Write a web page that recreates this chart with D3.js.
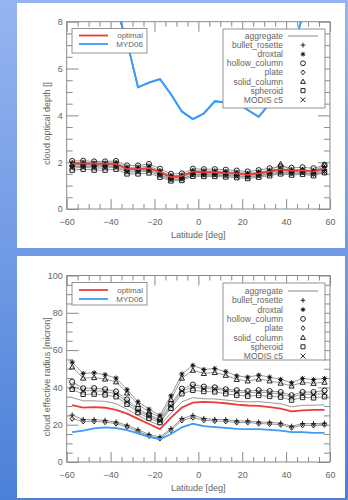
<!DOCTYPE html>
<html><head><meta charset="utf-8">
<script src="https://cdn.jsdelivr.net/npm/d3@7"></script>
<style>
html,body{margin:0;padding:0;}
body{width:348px;height:500px;overflow:hidden;}
text{font-family:"Liberation Sans",Arial,sans-serif;fill:#666;}
</style></head>
<body>
<svg id="c" width="348" height="500"></svg>
<script>
// ---------- data ----------
const lat = [-57.5,-52.5,-47.5,-42.5,-37.5,-32.5,-27.5,-22.5,-17.5,-12.5,-7.5,-2.5,2.5,7.5,12.5,17.5,22.5,27.5,32.5,37.5,42.5,47.5,52.5,57.5];
const xTicks = [-60,-40,-20,0,20,40,60];
const tauTicks = [0,2,4,6,8];
const reTicks = [0,20,40,60,80,100];
const habitNames = ["aggregate","bullet_rosette","droxtal","hollow_column","plate","solid_column","spheroid","MODIS c5"];
const refNames = ["optimal","MYD06"];

// cloud optical depth
const tauOptimal   = [1.95,1.95,1.94,1.94,1.93,1.70,1.70,1.74,1.58,1.36,1.41,1.60,1.57,1.57,1.53,1.52,1.46,1.52,1.60,1.69,1.64,1.65,1.60,1.73];
const tauMYD06     = [12.5,11.5,10.5,9.6,8.6,7.15,5.2,5.4,5.55,4.9,4.16,3.84,4.08,4.6,4.55,4.57,4.23,3.94,4.5,5.15,6.6,8.25,10,12];
const tauAggregate = [1.92,1.93,1.90,1.90,1.92,1.70,1.70,1.75,1.56,1.37,1.40,1.58,1.57,1.57,1.55,1.52,1.48,1.54,1.60,1.68,1.63,1.65,1.60,1.72];
const tauBullet    = [1.86,1.88,1.86,1.86,1.88,1.68,1.68,1.72,1.53,1.33,1.36,1.54,1.53,1.53,1.51,1.48,1.44,1.50,1.56,1.64,1.59,1.62,1.56,1.68];
const tauDroxtal   = [1.98,1.99,1.96,1.96,1.98,1.78,1.78,1.83,1.63,1.42,1.44,1.64,1.62,1.62,1.60,1.56,1.52,1.58,1.65,1.72,1.67,1.68,1.64,1.78];
const tauHollow    = [2.05,2.06,2.03,2.03,2.05,1.86,1.86,1.92,1.72,1.50,1.52,1.72,1.70,1.70,1.68,1.64,1.60,1.66,1.74,1.82,1.76,1.78,1.74,1.88];
const tauPlate     = [1.80,1.82,1.80,1.80,1.82,1.62,1.62,1.66,1.47,1.28,1.30,1.48,1.47,1.47,1.45,1.42,1.38,1.44,1.50,1.58,1.53,1.56,1.50,1.62];
const tauSolid     = [1.90,1.92,1.90,1.90,1.92,1.72,1.72,1.76,1.57,1.37,1.40,1.58,1.57,1.57,1.55,1.52,1.48,1.54,1.60,1.92,1.63,1.66,1.60,1.90];
const tauSpheroid  = [1.66,1.70,1.66,1.66,1.70,1.50,1.50,1.54,1.36,1.20,1.22,1.40,1.39,1.39,1.37,1.34,1.30,1.36,1.42,1.50,1.45,1.48,1.42,1.55];
const tauModis     = [1.75,1.78,1.75,1.75,1.78,1.58,1.58,1.62,1.43,1.25,1.27,1.45,1.44,1.44,1.42,1.39,1.35,1.41,1.47,1.55,1.50,1.53,1.47,1.60];

// cloud effective radius
const reOptimal   = [30.5,29.2,29.4,29.1,28.0,25.9,23.1,20.4,17.6,23.8,29.2,31.8,32.2,32.0,31.5,30.8,30.3,30.1,29.4,28.6,27.1,27.7,27.9,28.0];
const reMYD06     = [16.0,16.8,18.0,18.6,18.2,17.1,15.3,13.5,12.2,15.0,18.6,20.5,19.2,18.7,18.3,17.8,17.6,17.6,17.2,16.8,16.0,16.0,15.6,15.6];
const reAggregate = [34.5,32.8,32.8,32.5,31.3,28.3,25.0,22.0,19.6,26.2,32.3,34.5,33.9,33.8,33.2,32.6,32.2,32.4,31.8,31.2,29.6,30.4,30.5,30.6];
const reBullet    = [25.2,22.8,22.7,22.3,21.4,19.7,17.3,14.8,13.4,17.9,23.3,25.0,23.3,22.8,22.7,22.0,22.0,21.4,21.3,20.8,19.2,20.6,20.5,20.8];
const reDroxtal   = [53.5,47.5,47.8,46.8,45.0,38.8,32.3,28.3,25.0,35.5,47.2,51.8,49.6,50.1,48.5,46.2,45.5,46.6,45.5,44.3,42.5,44.8,44.2,44.8];
const reHollow    = [43.0,39.5,39.6,39.0,37.8,33.5,28.5,25.3,22.8,31.0,39.3,41.5,40.4,40.0,39.0,38.5,38.0,38.5,38.0,37.5,35.8,37.5,37.5,38.3];
const rePlate     = [23.2,21.8,21.8,21.4,20.6,18.8,16.4,14.0,12.6,17.0,22.3,23.8,22.4,22.0,21.8,21.2,21.2,20.6,20.4,20.0,18.4,19.7,19.6,20.0];
const reSolid     = [51.0,45.0,45.3,44.5,43.0,37.0,30.8,27.0,23.8,33.5,45.0,49.2,47.5,48.0,46.5,44.3,43.5,44.5,43.5,42.3,40.8,42.8,42.2,42.8];
const reSpheroid  = [39.0,36.3,36.4,36.0,35.0,31.0,26.5,23.5,21.2,28.8,36.6,38.5,37.8,37.6,36.6,35.8,35.3,35.7,35.2,34.8,33.2,34.6,34.4,35.0];
const reModis     = [40.5,38.2,38.3,37.8,36.5,32.3,27.5,24.5,22.0,30.0,38.0,40.2,39.3,39.2,38.2,37.5,37.0,37.5,37.0,36.4,34.8,36.4,36.2,36.8];

// ---------- symbols ----------
const symPaths = {
  "none": null,
  "plus": (r)=>`M${-r},0H${r}M0,${-r}V${r}`,
  "star": (r)=>{let s=`M${-r},0H${r}M0,${-r}V${r}`;const a=r*0.72;s+=`M${-a},${-a}L${a},${a}M${-a},${a}L${a},${-a}`;return s;},
  "circle": (r)=>`M${r},0A${r},${r},0,1,1,${-r},0A${r},${r},0,1,1,${r},0Z`,
  "diamond": (r)=>`M0,${-r}L${r*0.8},0L0,${r}L${-r*0.8},0Z`,
  "triangle": (r)=>`M0,${-r}L${r},${r*0.8}L${-r},${r*0.8}Z`,
  "square": (r)=>`M${-r*0.85},${-r*0.85}H${r*0.85}V${r*0.85}H${-r*0.85}Z`,
  "times": (r)=>`M${-r},${-r}L${r},${r}M${-r},${r}L${r},${-r}`
};
const habitSym = ["none","plus","star","circle","diamond","triangle","square","times"];

function drawSym(g, type, x, y, r){
  if(type==="none") return;
  g.append("path").attr("d", symPaths[type](r)).attr("transform",`translate(${x},${y})`)
    .attr("fill","none").attr("stroke","#111").attr("stroke-width",0.9);
  if(type==="star") g.append("circle").attr("cx",x).attr("cy",y).attr("r",r*0.45).attr("fill","#111");
}

const svg = d3.select("#c");
const defs = svg.append("defs");
const grad = defs.append("linearGradient").attr("id","bg").attr("x1",0).attr("y1",0).attr("x2",0).attr("y2",1);
grad.append("stop").attr("offset","0%").attr("stop-color","#95b5f1");
grad.append("stop").attr("offset","100%").attr("stop-color","#4c80d8");
svg.append("rect").attr("width",348).attr("height",500).attr("fill","url(#bg)");

const x = d3.scaleLinear().domain([-60,60]).range([66.7,330]);

const panels = [
  {ptop:3, pbot:248, top:21.7, bot:209, dom:[0,8], ticks:tauTicks, minorStep:0.5,
   title:"cloud optical depth []", optimal:tauOptimal, myd:tauMYD06,
   habits:[tauAggregate,tauBullet,tauDroxtal,tauHollow,tauPlate,tauSolid,tauSpheroid,tauModis],
   leg1:{x0:72,x1:147,y0:28.5,y1:53,rows:[35.5,44]}, leg2:{x0:223,x1:325,y0:29,y1:108,row0:36,dy:9.1}, labelY:226, titleY:238},
  {ptop:256, pbot:498, top:275.5, bot:462, dom:[0,100], ticks:reTicks, minorStep:5,
   title:"cloud effective radius [micron]", optimal:reOptimal, myd:reMYD06,
   habits:[reAggregate,reBullet,reDroxtal,reHollow,rePlate,reSolid,reSpheroid,reModis],
   leg1:{x0:72,x1:147,y0:282.5,y1:305,rows:[290,299]}, leg2:{x0:223,x1:325,y0:283,y1:360,row0:291,dy:9.3}, labelY:480, titleY:491}
];

panels.forEach((p,pi)=>{
  svg.append("rect").attr("x",17).attr("y",p.ptop).attr("width",328).attr("height",p.pbot-p.ptop).attr("fill","#fff");
  const y = d3.scaleLinear().domain(p.dom).range([p.bot,p.top]);
  const g = svg.append("g");
  const cid = "clip"+pi;
  defs.append("clipPath").attr("id",cid).append("rect").attr("x",x.range()[0]).attr("y",p.top)
    .attr("width",x.range()[1]-x.range()[0]).attr("height",p.bot-p.top);

  const yMinor = d3.range(p.dom[0], p.dom[1]+1e-9, p.minorStep).filter(v=>!p.ticks.includes(v));
  const xMinor = d3.range(-60,60.1,5).filter(v=>!xTicks.includes(v));
  const axCol = "#8a8a8a";
  function styleAx(sel){ sel.select(".domain").remove(); sel.selectAll("line").attr("stroke",axCol); sel.selectAll("text").attr("fill","#666").style("font-size","9px"); }

  g.append("g").attr("transform",`translate(0,${p.bot})`).call(d3.axisBottom(x).tickValues(xTicks).tickSize(-10).tickPadding(10)).call(styleAx);
  g.append("g").attr("transform",`translate(0,${p.bot})`).call(d3.axisBottom(x).tickValues(xMinor).tickSize(-5).tickFormat("")).call(styleAx);
  g.append("g").attr("transform",`translate(0,${p.top})`).call(d3.axisTop(x).tickValues(xTicks).tickSize(-10).tickFormat("")).call(styleAx);
  g.append("g").attr("transform",`translate(0,${p.top})`).call(d3.axisTop(x).tickValues(xMinor).tickSize(-5).tickFormat("")).call(styleAx);
  g.append("g").attr("transform",`translate(${x.range()[0]},0)`).call(d3.axisLeft(y).tickValues(p.ticks).tickSize(-12).tickPadding(4).tickFormat(d3.format("d"))).call(styleAx);
  g.append("g").attr("transform",`translate(${x.range()[0]},0)`).call(d3.axisLeft(y).tickValues(yMinor).tickSize(-6).tickFormat("")).call(styleAx);
  g.append("g").attr("transform",`translate(${x.range()[1]},0)`).call(d3.axisRight(y).tickValues(p.ticks).tickSize(-12).tickFormat("")).call(styleAx);
  g.append("g").attr("transform",`translate(${x.range()[1]},0)`).call(d3.axisRight(y).tickValues(yMinor).tickSize(-6).tickFormat("")).call(styleAx);

  g.append("rect").attr("x",x.range()[0]).attr("y",p.top).attr("width",x.range()[1]-x.range()[0]).attr("height",p.bot-p.top)
    .attr("fill","none").attr("stroke",axCol).attr("stroke-width",1);

  g.append("text").attr("x",(x.range()[0]+x.range()[1])/2).attr("y",p.titleY).attr("text-anchor","middle").style("font-size","9px").text("Latitude [deg]");
  const yc = (p.top+p.bot)/2 + 8;
  g.append("text").attr("transform",`translate(50,${yc}) rotate(-90)`).attr("text-anchor","middle").style("font-size","9px").text(p.title);

  const line = d3.line().x((d,i)=>x(lat[i])).y(d=>y(d));
  const data = g.append("g").attr("clip-path",`url(#${cid})`);
  p.habits.forEach(h=>{
    data.append("path").attr("d",line(h)).attr("fill","none").attr("stroke","#8c8c8c").attr("stroke-width",0.9);
  });
  p.habits.forEach((h,hi)=>{
    h.forEach((v,i)=>drawSym(data, habitSym[hi], x(lat[i]), y(v), 2.6));
  });
  data.append("path").attr("d",line(p.optimal)).attr("fill","none").attr("stroke","#f03a3a").attr("stroke-width",1.8);
  data.append("path").attr("d",line(p.myd)).attr("fill","none").attr("stroke","#3d9bf5").attr("stroke-width",1.8);

  // legend 1
  const L1 = p.leg1;
  g.append("rect").attr("x",L1.x0).attr("y",L1.y0).attr("width",L1.x1-L1.x0).attr("height",L1.y1-L1.y0).attr("fill","#fff").attr("stroke","#888").attr("stroke-width",0.9);
  ["#f03a3a","#3d9bf5"].forEach((c,i)=>{
    g.append("line").attr("x1",79).attr("x2",108).attr("y1",L1.rows[i]).attr("y2",L1.rows[i]).attr("stroke",c).attr("stroke-width",1.8);
    g.append("text").attr("x",143).attr("y",L1.rows[i]+2.8).attr("text-anchor","end").style("font-size","8px").text(refNames[i]);
  });
  // legend 2
  const L2 = p.leg2;
  const lg = g.append("g");
  lg.append("rect").attr("x",L2.x0).attr("y",L2.y0).attr("width",L2.x1-L2.x0).attr("height",L2.y1-L2.y0).attr("fill","#fff").attr("stroke","#888").attr("stroke-width",0.9);
  habitNames.forEach((n,i)=>{
    const ry = L2.row0 + i*L2.dy;
    lg.append("text").attr("x",283).attr("y",ry+3).attr("text-anchor","end").style("font-size","8.5px").text(n);
    if(i===0) lg.append("line").attr("x1",288).attr("x2",318).attr("y1",ry).attr("y2",ry).attr("stroke","#8c8c8c").attr("stroke-width",1);
    else drawSym(lg, habitSym[i], 303, ry, 2.4);
  });
  // MYD06 line passes over the legend boxes in the top panel
  if(pi===0){
    data.append("path").attr("d",line(p.myd)).attr("fill","none").attr("stroke","#3d9bf5").attr("stroke-width",1.8);
  }
});
</script>
</body></html>
